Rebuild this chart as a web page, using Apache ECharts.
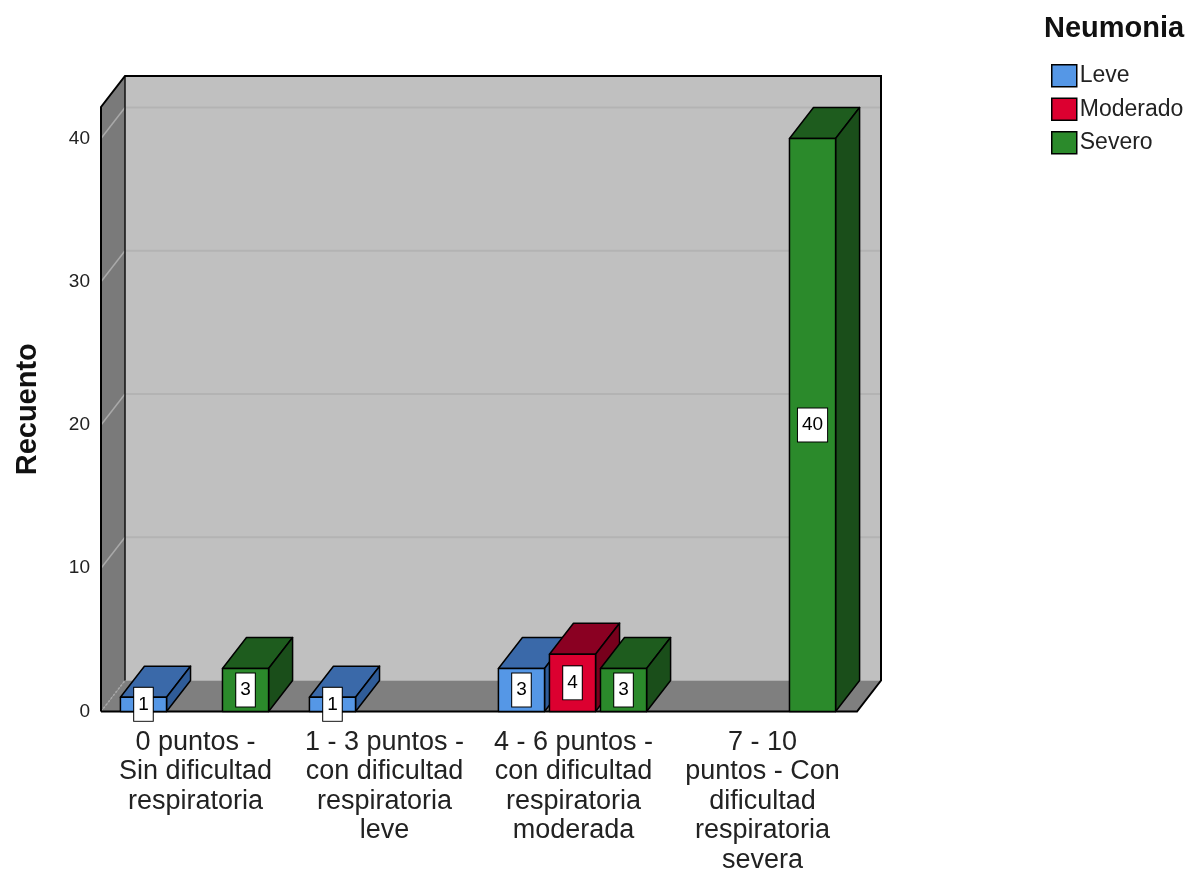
<!DOCTYPE html>
<html>
<head>
<meta charset="utf-8">
<title>Recuento por Neumonia</title>
<script src="https://cdn.jsdelivr.net/npm/echarts@6/dist/echarts.min.js"></script>
<style>
  html, body { margin: 0; padding: 0; background: #ffffff; overflow: hidden; }
  #chart { width: 1195px; height: 875px; }
</style>
</head>
<body>
<div id="chart"></div>
<script>
// Categories of respiratory difficulty score
const categories = [
  '0 puntos -\nSin dificultad\nrespiratoria',
  '1 - 3 puntos -\ncon dificultad\nrespiratoria\nleve',
  '4 - 6 puntos -\ncon dificultad\nrespiratoria\nmoderada',
  '7 - 10\npuntos - Con\ndificultad\nrespiratoria\nsevera'
];

// Counts per pneumonia severity (null = no bar)
const leve     = [1, 1, 3, null];
const moderado = [null, null, 4, null];
const severo   = [3, null, 3, 40];

const seriesNames = ['Leve', 'Moderado', 'Severo'];
const yTicks = [0, 10, 20, 30, 40];

// Face colours for each series: front, top, side
const palette = [
  { front: '#5597e6', top: '#3a69a9', side: '#2f5c98' },
  { front: '#dc0030', top: '#8a0022', side: '#77001c' },
  { front: '#2b8a2b', top: '#1e5c1e', side: '#1a4e1a' }
];

// Depth offset of the pseudo-3D box
const DX = 24, DY = -31;

const chart = echarts.init(document.getElementById('chart'), null, { renderer: 'canvas' });

function wallsRender(params, api) {
  const cs = params.coordSys;
  const x0 = cs.x, x1 = cs.x + cs.width, yT = cs.y, yB = cs.y + cs.height;
  const children = [];
  // back wall
  children.push({ type: 'polygon', shape: { points: [[x0 + DX, yT + DY], [x1 + DX, yT + DY], [x1 + DX, yB + DY], [x0 + DX, yB + DY]] },
    style: { fill: '#c0c0c0' } });
  // left wall
  children.push({ type: 'polygon', shape: { points: [[x0, yT], [x0 + DX, yT + DY], [x0 + DX, yB + DY], [x0, yB]] },
    style: { fill: '#7a7a7a' } });
  // floor
  children.push({ type: 'polygon', shape: { points: [[x0, yB], [x1, yB], [x1 + DX, yB + DY], [x0 + DX, yB + DY]] },
    style: { fill: '#7f7f7f' } });
  // grid lines on the back wall and the left wall
  yTicks.forEach(function (v) {
    const y = api.coord([0, v])[1];
    if (v > 0) {
      children.push({ type: 'line', shape: { x1: x0 + DX, y1: y + DY, x2: x1 + DX, y2: y + DY },
        style: { stroke: '#b3b3b3', lineWidth: 2 } });
    }
    children.push({ type: 'line', shape: { x1: x0, y1: y, x2: x0 + DX, y2: y + DY },
      style: { stroke: '#a9a9a9', lineWidth: 1.5, lineDash: v === 0 ? [2, 2] : null } });
  });
  // inner edge between left wall and back wall
  children.push({ type: 'line', shape: { x1: x0 + DX, y1: yT + DY, x2: x0 + DX, y2: yB + DY },
    style: { stroke: '#111', lineWidth: 1.5 } });
  // outer outline
  children.push({ type: 'polyline', shape: { points: [
      [x0, yB], [x0, yT], [x0 + DX, yT + DY], [x1 + DX, yT + DY], [x1 + DX, yB + DY], [x1, yB], [x0, yB]
    ] }, style: { stroke: '#000', lineWidth: 2, fill: null } });
  return { type: 'group', children: children };
}

function makeBarRender(si) {
  return function (params, api) {
    const cat = api.value(0);
    const val = api.value(1);
    if (val == null || isNaN(val)) return;
    const band = api.size([1, 0])[0];
    const top = api.coord([cat, val]);
    const base = api.coord([cat, 0]);
    const w = band * 0.244;
    const cx = top[0] + (si - 1) * band * 0.27 - 1;
    const xl = cx - w / 2, xr = cx + w / 2;
    const yt = top[1], yb = base[1];
    const c = palette[si];
    const edge = { stroke: '#000', lineWidth: 1.5, lineJoin: 'round' };
    return {
      type: 'group',
      children: [
        { type: 'polygon', shape: { points: [[xl, yt], [xr, yt], [xr + DX, yt + DY], [xl + DX, yt + DY]] },
          style: Object.assign({ fill: c.top }, edge) },
        { type: 'polygon', shape: { points: [[xr, yt], [xr + DX, yt + DY], [xr + DX, yb + DY], [xr, yb]] },
          style: Object.assign({ fill: c.side }, edge) },
        { type: 'rect', shape: { x: xl, y: yt, width: w, height: yb - yt },
          style: Object.assign({ fill: c.front }, edge) },
        { type: 'text', z2: 50, x: cx, y: (yt + yb) / 2,
          style: {
            text: String(val), fill: '#000', fontSize: 19, fontFamily: 'Liberation Sans, Arial, sans-serif',
            align: 'center', verticalAlign: 'middle', lineHeight: 19,
            backgroundColor: '#ffffff', borderColor: '#000', borderWidth: 1, padding: [7, 4]
          } }
      ]
    };
  };
}

const seriesData = [leve, moderado, severo];

const series = [{
  type: 'custom',
  name: 'walls',
  silent: true,
  z: 1,
  renderItem: wallsRender,
  data: [[0, 0]]
}];

seriesData.forEach(function (arr, si) {
  series.push({
    type: 'custom',
    name: seriesNames[si],
    z: 2 + si,
    itemStyle: { color: palette[si].front },
    renderItem: makeBarRender(si),
    encode: { x: 0, y: 1 },
    data: arr.map(function (v, i) { return [i, v]; })
  });
});

chart.setOption({
  animation: false,
  backgroundColor: '#ffffff',
  textStyle: { fontFamily: 'Liberation Sans, Arial, sans-serif' },
  title: {
    text: 'Neumonia',
    left: 1039, top: 9,
    textStyle: { fontSize: 29, fontWeight: 'bold', color: '#111', fontFamily: 'Liberation Sans, Arial, sans-serif' }
  },
  legend: {
    orient: 'vertical',
    left: 1046, top: 59,
    data: seriesNames,
    icon: 'rect',
    itemWidth: 25, itemHeight: 22, itemGap: 10,
    itemStyle: { borderColor: '#000', borderWidth: 1.5 },
    textStyle: { fontSize: 23, color: '#222', padding: [0, 0, 0, -2] },
    selectedMode: false
  },
  grid: { left: 101, width: 756, top: 107, height: 607, containLabel: false },
  xAxis: {
    type: 'category',
    data: categories,
    boundaryGap: true,
    axisLine: { show: false },
    axisTick: { show: false },
    splitLine: { show: false },
    axisLabel: { interval: 0, fontSize: 27, lineHeight: 29.5, color: '#222', margin: 16 }
  },
  yAxis: {
    type: 'value',
    min: 0, max: 42.2, interval: 10,
    name: 'Recuento',
    nameLocation: 'middle',
    nameRotate: 90,
    nameGap: 59,
    nameTextStyle: { fontSize: 29, fontWeight: 'bold', color: '#111' },
    axisLine: { show: false },
    axisTick: { show: false },
    splitLine: { show: false },
    axisLabel: { fontSize: 19, color: '#222', margin: 11, showMaxLabel: false,
      formatter: function (v) { return yTicks.indexOf(v) >= 0 ? String(v) : ''; } }
  },
  series: series
});
</script>
</body>
</html>
